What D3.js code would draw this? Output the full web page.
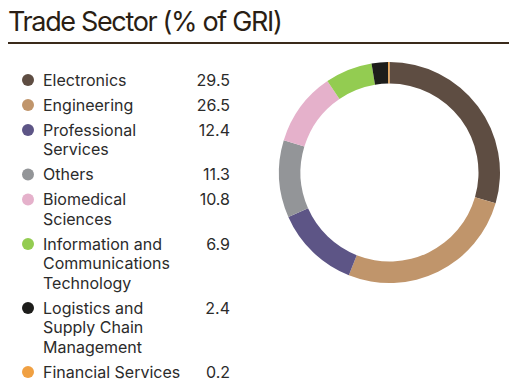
<!DOCTYPE html>
<html><head><meta charset="utf-8">
<script src="https://cdn.jsdelivr.net/npm/d3@7"></script>
<style>body{margin:0;background:#fff;} svg{display:block;}</style>
</head><body>
<svg id="chart" width="530" height="392"></svg>
<script>
const title = "Trade Sector (% of GRI)";
const categories = ["Electronics","Engineering","Professional Services","Others","Biomedical Sciences","Information and Communications Technology","Logistics and Supply Chain Management","Financial Services"];
const labelLines = [["Electronics"],["Engineering"],["Professional","Services"],["Others"],["Biomedical","Sciences"],["Information and","Communications","Technology"],["Logistics and","Supply Chain","Management"],["Financial Services"]];
const values = [29.5,26.5,12.4,11.3,10.8,6.9,2.4,0.2];
const colors = ["#5e4d42","#c0956b","#5d5586","#939598","#e5b1cb","#93cc51","#1d1d1b","#f0a042"];

const svg = d3.select("#chart");
const font = "Inter, 'DejaVu Sans', sans-serif";

svg.append("text").attr("x",8).attr("y",31).attr("font-family",font)
  .attr("font-size",27).attr("letter-spacing",-1.35).attr("fill","#2a1e14").text(title);
svg.append("line").attr("x1",8).attr("x2",509).attr("y1",43).attr("y2",43)
  .attr("stroke","#3a2a1a").attr("stroke-width",2);

const color = d3.scaleOrdinal().domain(categories).range(colors);

// legend
const lineH = 19.5, gap = 5.5;
let y = 80;
const leg = svg.append("g");
categories.forEach((c,i)=>{
  leg.append("circle").attr("cx",28).attr("cy",y).attr("r",6).attr("fill",color(c));
  const t = leg.append("text").attr("font-family",font).attr("font-size",16).attr("fill","#2b2b2b");
  labelLines[i].forEach((ln,j)=>{
    t.append("tspan").attr("x",43).attr("y",y+5.5+j*lineH).text(ln);
  });
  leg.append("text").attr("x",230).attr("y",y+5.5).attr("text-anchor","end")
    .attr("font-family",font).attr("font-size",16).attr("fill","#2b2b2b").text(values[i].toFixed(1));
  y += labelLines[i].length*lineH + gap;
});

// donut
const pie = d3.pie().sort(null).value(d=>d.v);
const arc = d3.arc().innerRadius(89).outerRadius(110.5);
const data = categories.map((c,i)=>({c, v:values[i]}));
svg.append("g").attr("transform","translate(389.5,172.5)")
  .selectAll("path").data(pie(data)).join("path")
  .attr("d",arc).attr("fill",d=>color(d.data.c));
</script>
</body></html>
